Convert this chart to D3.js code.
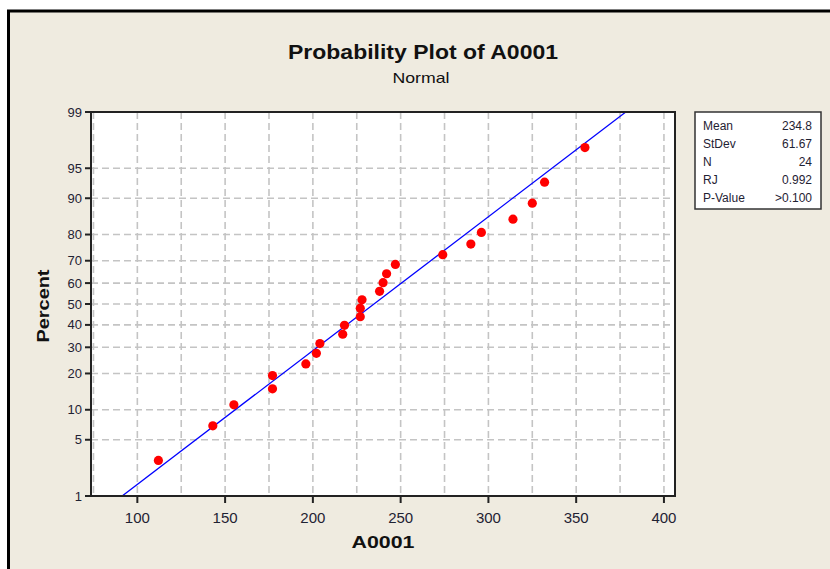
<!DOCTYPE html>
<html><head><meta charset="utf-8">
<script src="https://cdn.jsdelivr.net/npm/d3@7"></script>
<style>html,body{margin:0;padding:0;background:#fff;}svg{display:block;}</style>
</head><body>
<svg id="chart" width="830" height="569"></svg>
<script>
// ---- data ----
const values = [112,143,155,177,177,196,202,204,217,218,227,227,228,238,240,242,247,274,290,296,314,325,332,355];
const percents = [2.9,7.0,11.1,15.2,19.3,23.4,27.5,31.6,35.7,39.8,43.9,48.0,52.0,56.1,60.2,64.3,68.4,72.5,76.6,80.7,84.8,88.9,93.0,97.1];
const yTicks = [1,5,10,20,30,40,50,60,70,80,90,95,99];
const yGrid = [5,10,20,30,40,50,60,70,80,90,95];
const xTicks = [100,150,200,250,300,350,400];
const xGrid = [75,100,125,150,175,200,225,250,275,300,325,350,375,400];
const statLabels = ["Mean","StDev","N","RJ","P-Value"];
const statValues = ["234.8","61.67","24","0.992",">0.100"];
const fitMean = 234.8, fitSd = 61.67;

// inverse normal CDF (Acklam)
function probit(p){
  const a=[-39.69683028665376,220.9460984245205,-275.9285104469687,138.3577518672690,-30.66479806614716,2.506628277459239];
  const b=[-54.47609879822406,161.5858368580409,-155.6989798598866,66.80131188771972,-13.28068155288572];
  const c=[-0.007784894002430293,-0.3223964580411365,-2.400758277161838,-2.549732539343734,4.374664141464968,2.938163982698783];
  const d=[0.007784695709041462,0.3224671290700398,2.445134137142996,3.754408661907416];
  const pl=0.02425, ph=1-pl; let q,r;
  if(p<pl){q=Math.sqrt(-2*Math.log(p));return (((((c[0]*q+c[1])*q+c[2])*q+c[3])*q+c[4])*q+c[5])/((((d[0]*q+d[1])*q+d[2])*q+d[3])*q+1);}
  if(p<=ph){q=p-0.5;r=q*q;return (((((a[0]*r+a[1])*r+a[2])*r+a[3])*r+a[4])*r+a[5])*q/(((((b[0]*r+b[1])*r+b[2])*r+b[3])*r+b[4])*r+1);}
  q=Math.sqrt(-2*Math.log(1-p));return -(((((c[0]*q+c[1])*q+c[2])*q+c[3])*q+c[4])*q+c[5])/((((d[0]*q+d[1])*q+d[2])*q+d[3])*q+1);
}

const svg = d3.select("#chart");
const L=91, R=675, T=112, B=496;
const FONT = "'Liberation Sans', Arial, sans-serif";
const x = d3.scaleLinear().domain([73.6,406.3]).range([L,R]);
const yz = d3.scaleLinear().domain([probit(0.01),probit(0.99)]).range([B,T]);
const y = p => yz(probit(p/100));

// outer frame
svg.append("rect").attr("x",8.5).attr("y",11).attr("width",840).attr("height",600)
  .attr("fill","#efebe0").attr("stroke","#000").attr("stroke-width",3);

// title
svg.append("text").attr("x",423).attr("y",59).attr("text-anchor","middle")
  .attr("font-family",FONT).attr("font-weight","bold").attr("font-size",20).attr("fill","#111")
  .attr("textLength",270).attr("lengthAdjust","spacingAndGlyphs").text("Probability Plot of A0001");
svg.append("text").attr("x",421).attr("y",83).attr("text-anchor","middle")
  .attr("font-family",FONT).attr("font-size",15).attr("fill","#111")
  .attr("textLength",57).attr("lengthAdjust","spacingAndGlyphs").text("Normal");

// plot area
svg.append("rect").attr("x",L).attr("y",T).attr("width",R-L).attr("height",B-T).attr("fill","#fff");

const g = svg.append("g");
g.selectAll("line.hg").data(yGrid).join("line").attr("class","hg")
  .attr("x1",L).attr("x2",R).attr("y1",d=>y(d)).attr("y2",d=>y(d))
  .attr("stroke","#c4c4c4").attr("stroke-width",1.6).attr("stroke-dasharray","7,4");
g.selectAll("line.vg").data(xGrid).join("line").attr("class","vg")
  .attr("y1",T).attr("y2",B).attr("x1",d=>x(d)).attr("x2",d=>x(d))
  .attr("stroke","#c4c4c4").attr("stroke-width",1.6).attr("stroke-dasharray","7,4");

// fit line
const fitP = [1,99];
g.append("path").datum(fitP)
  .attr("d", d3.line().x(p=>x(fitMean+fitSd*probit(p/100))).y(p=>y(p)))
  .attr("stroke","#0000ff").attr("stroke-width",1.3).attr("fill","none");

// points
g.selectAll("circle").data(values).join("circle")
  .attr("cx",d=>x(d)).attr("cy",(d,i)=>y(percents[i])).attr("r",4.6).attr("fill","#ff0000");

// frame
svg.append("rect").attr("x",L).attr("y",T).attr("width",R-L).attr("height",B-T)
  .attr("fill","none").attr("stroke","#222").attr("stroke-width",2);

// y axis
const ya = svg.append("g");
ya.selectAll("line").data(yTicks).join("line")
  .attr("x1",85).attr("x2",L).attr("y1",d=>y(d)).attr("y2",d=>y(d))
  .attr("stroke","#222").attr("stroke-width",2);
ya.selectAll("text").data(yTicks).join("text")
  .attr("x",82).attr("y",d=>y(d)+4.5).attr("text-anchor","end")
  .attr("font-family",FONT).attr("font-size",13).attr("fill","#1f2233").text(d=>d);

// x axis
const xa = svg.append("g");
xa.selectAll("line").data(xTicks).join("line")
  .attr("y1",B).attr("y2",503).attr("x1",d=>x(d)).attr("x2",d=>x(d))
  .attr("stroke","#222").attr("stroke-width",2);
xa.selectAll("text").data(xTicks).join("text")
  .attr("x",d=>x(d)).attr("y",523).attr("text-anchor","middle")
  .attr("font-family",FONT).attr("font-size",15).attr("fill","#1f2233").text(d=>d);

// axis titles
svg.append("text").attr("transform","translate(49,306) rotate(-90)").attr("text-anchor","middle")
  .attr("font-family",FONT).attr("font-weight","bold").attr("font-size",17).attr("fill","#111")
  .attr("textLength",73).attr("lengthAdjust","spacingAndGlyphs").text("Percent");
svg.append("text").attr("x",383).attr("y",548).attr("text-anchor","middle")
  .attr("font-family",FONT).attr("font-weight","bold").attr("font-size",17).attr("fill","#111")
  .attr("textLength",63).attr("lengthAdjust","spacingAndGlyphs").text("A0001");

// stats box
svg.append("rect").attr("x",695).attr("y",112).attr("width",126).attr("height",97)
  .attr("fill","#fff").attr("stroke","#333").attr("stroke-width",1.5);
const rowY = d3.scaleLinear().domain([0,4]).range([130,202]);
svg.append("g").selectAll("text").data(statLabels).join("text")
  .attr("x",703).attr("y",(d,i)=>rowY(i)).attr("font-family",FONT).attr("font-size",12)
  .attr("fill","#1f2233").text(d=>d);
svg.append("g").selectAll("text").data(statValues).join("text")
  .attr("x",812).attr("y",(d,i)=>rowY(i)).attr("text-anchor","end").attr("font-family",FONT).attr("font-size",12)
  .attr("fill","#1f2233").text(d=>d);
</script>
</body></html>
